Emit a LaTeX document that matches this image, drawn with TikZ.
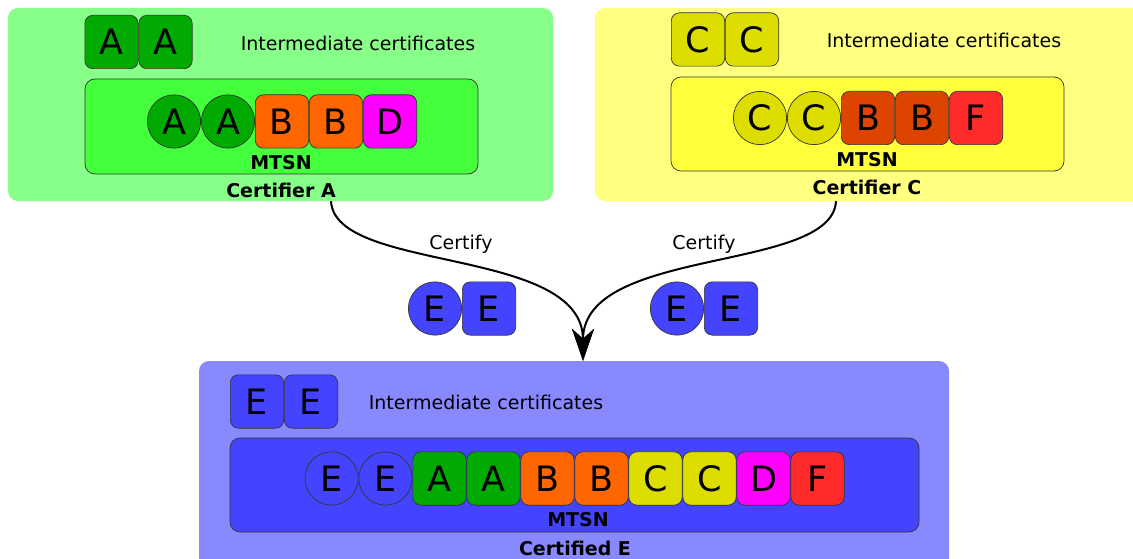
\documentclass[tikz,border=0pt]{standalone}
\usepackage{fontspec}
\setmainfont{DejaVu Sans}
\usetikzlibrary{positioning, arrows.meta}
\definecolor{grnouter}{RGB}{136,255,136}
\definecolor{grninner}{RGB}{68,255,60}
\definecolor{grntok}{RGB}{0,170,0}
\definecolor{ylwouter}{RGB}{255,255,128}
\definecolor{ylwinner}{RGB}{255,255,60}
\definecolor{ylwtok}{RGB}{221,221,0}
\definecolor{orgtok}{RGB}{255,102,0}
\definecolor{rusttok}{RGB}{221,68,0}
\definecolor{magtok}{RGB}{255,0,255}
\definecolor{redtok}{RGB}{255,42,42}
\definecolor{bluouter}{RGB}{136,136,255}
\definecolor{bluinner}{RGB}{68,68,255}

\begin{document}
\begin{tikzpicture}[x=1pt, y=-1pt, >=Stealth,
    tok/.style={draw=black!80, line width=0.7pt, rounded corners=8pt, minimum width=53.3pt, minimum height=53.3pt,
        inner sep=0pt, font=\fontsize{35}{35}\selectfont},
    ctok/.style={tok, circle, minimum size=53.3pt},
    outerbox/.style={rounded corners=10pt, inner sep=0pt},
    mtsnbox/.style={draw=black!80, line width=0.7pt, rounded corners=10pt, inner sep=0pt},
    lbl/.style={font=\fontsize{19}{22}\selectfont},
    blbl/.style={font=\bfseries\fontsize{19}{22}\selectfont},
    certarrow/.style={->, line width=2pt}]
\useasboundingbox (0,0) rectangle (1133,559);
\clip (0,0) rectangle (1133,559);

% certifier A
\node[outerbox, fill=grnouter, minimum width=545pt, minimum height=193pt] (boxA) at (280.5,104.5) {};
\node[mtsnbox, fill=grninner, minimum width=393pt, minimum height=95pt] (mtsnA) at (281.5,126.5) {};
\node[tok, fill=grntok] (iA1) at (111.5,42) {A};
\node[tok, fill=grntok, right=0pt of iA1] (iA2) {A};
\node[lbl] (intA) at (358,43) {Intermediate certificates};
\node[ctok, fill=grntok] (mA1) at (174,121.5) {A};
\node[ctok, fill=grntok, right=0pt of mA1] (mA2) {A};
\node[tok, fill=orgtok, right=0pt of mA2] (mA3) {B};
\node[tok, fill=orgtok, right=0pt of mA3] (mA4) {B};
\node[tok, fill=magtok, right=0pt of mA4] (mA5) {D};
\node[blbl] (labmA) at (281,163) {MTSN};
\node[blbl] (labA) at (281,190) {Certifier A};

% certifier C
\node[outerbox, fill=ylwouter, minimum width=560pt, minimum height=193pt] (boxC) at (875,104.5) {};
\node[mtsnbox, fill=ylwinner, minimum width=393pt, minimum height=94pt] (mtsnC) at (867.5,124) {};
\node[tok, fill=ylwtok] (iC1) at (698,39.5) {C};
\node[tok, fill=ylwtok, right=0pt of iC1] (iC2) {C};
\node[lbl] (intC) at (944,40) {Intermediate certificates};
\node[ctok, fill=ylwtok] (mC1) at (760,118) {C};
\node[ctok, fill=ylwtok, right=0pt of mC1] (mC2) {C};
\node[tok, fill=rusttok, right=0pt of mC2] (mC3) {B};
\node[tok, fill=rusttok, right=0pt of mC3] (mC4) {B};
\node[tok, fill=redtok, right=0pt of mC4] (mC5) {F};
\node[blbl] (labmC) at (867,160) {MTSN};
\node[blbl] (labC) at (867,187) {Certifier C};

% certified E
\node[outerbox, fill=bluouter, minimum width=750pt, minimum height=219pt] (boxE) at (574,470.5) {};
\node[mtsnbox, fill=bluinner, minimum width=689pt, minimum height=94pt] (mtsnE) at (574.5,485) {};
\node[tok, fill=bluinner] (iE1) at (257,401.5) {E};
\node[tok, fill=bluinner, right=0pt of iE1] (iE2) {E};
\node[lbl] (intE) at (486,402) {Intermediate certificates};
\node[ctok, fill=bluinner] (mE1) at (331.5,478.5) {E};
\node[ctok, fill=bluinner, right=0pt of mE1] (mE2) {E};
\node[tok, fill=grntok, right=0pt of mE2] (mE3) {A};
\node[tok, fill=grntok, right=0pt of mE3] (mE4) {A};
\node[tok, fill=orgtok, right=0pt of mE4] (mE5) {B};
\node[tok, fill=orgtok, right=0pt of mE5] (mE6) {B};
\node[tok, fill=ylwtok, right=0pt of mE6] (mE7) {C};
\node[tok, fill=ylwtok, right=0pt of mE7] (mE8) {C};
\node[tok, fill=magtok, right=0pt of mE8] (mE9) {D};
\node[tok, fill=redtok, right=0pt of mE9] (mE10) {F};
\node[blbl] (labmE) at (578,520) {MTSN};
\node[blbl] (labE) at (575,548) {Certified E};

% signatures in transit
\node[ctok, fill=bluinner] (sA1) at (435,308.5) {E};
\node[tok, fill=bluinner, right=0pt of sA1] (sA2) {E};
\node[ctok, fill=bluinner] (sC1) at (677,308.5) {E};
\node[tok, fill=bluinner, right=0pt of sC1] (sC2) {E};

% arrows
\draw[certarrow, -{Stealth[length=32pt, width=22pt, inset=10pt]}]
    ([xshift=50.5pt]boxA.south) .. controls +(4,72) and +(0,-115) .. ([xshift=9pt]boxE.north);
\draw[certarrow, -{Stealth[length=32pt, width=22pt, inset=10pt]}]
    ([xshift=-39pt]boxC.south) .. controls +(-4,72) and +(0,-115) .. ([xshift=9pt]boxE.north);
\node[lbl] (certifyA) at (461,244) {Certify};
\node[lbl] (certifyC) at (704,244) {Certify};
\end{tikzpicture}
\end{document}
